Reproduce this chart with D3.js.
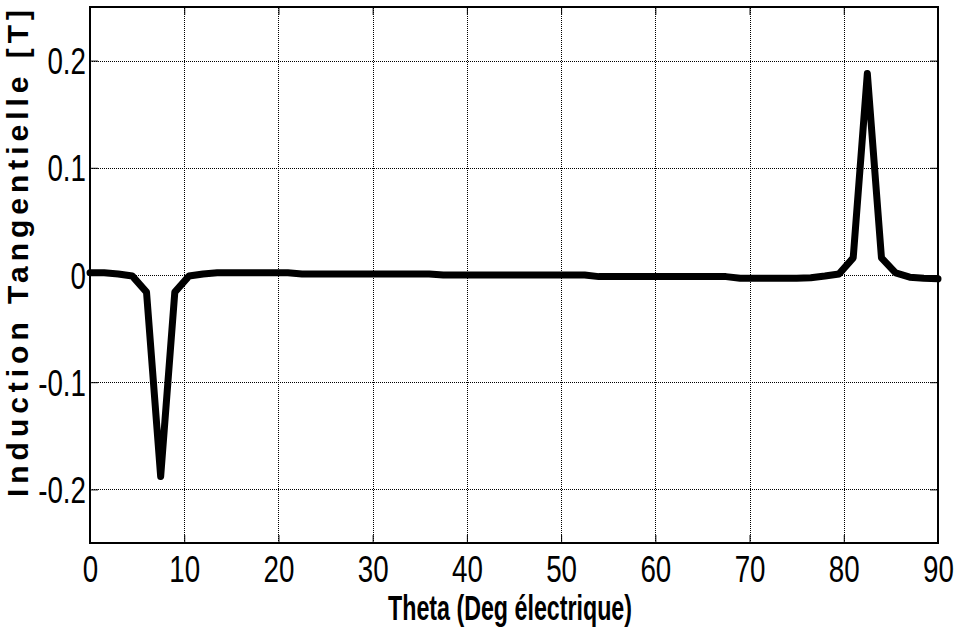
<!DOCTYPE html>
<html>
<head>
<meta charset="utf-8">
<script src="https://cdn.jsdelivr.net/npm/d3@7"></script>
<style>
  html, body { margin: 0; padding: 0; background: #fff; }
  svg { display: block; }
  .tick-label { font-family: "Liberation Sans Narrow", "Arial Narrow", "Liberation Sans", Arial, sans-serif; font-size: 37px; fill: #000; }
  .title { font-family: "Liberation Sans Narrow", "Arial Narrow", "Liberation Sans", Arial, sans-serif; font-weight: bold; fill: #000; }
</style>
</head>
<body>
<svg id="chart" width="954" height="631"></svg>
<script>
// Angle (electrical degrees), sampled every 1.5°
const theta = [
  0, 1.5, 3, 4.5, 6, 7.5, 9, 10.5, 12, 13.5,
  15, 16.5, 18, 19.5, 21, 22.5, 24, 25.5, 27, 28.5,
  30, 31.5, 33, 34.5, 36, 37.5, 39, 40.5, 42, 43.5,
  45, 46.5, 48, 49.5, 51, 52.5, 54, 55.5, 57, 58.5,
  60, 61.5, 63, 64.5, 66, 67.5, 69, 70.5, 72, 73.5,
  75, 76.5, 78, 79.5, 81, 82.5, 84, 85.5, 87, 88.5, 90
];
// Tangential flux density [T]
const bTangential = [
  0.002, 0.002, 0.001, -0.001, -0.016, -0.188, -0.016, -0.001, 0.001, 0.002,
  0.002, 0.002, 0.002, 0.002, 0.002, 0.001, 0.001, 0.001, 0.001, 0.001,
  0.001, 0.001, 0.001, 0.001, 0.001, 0.0, 0.0, 0.0, 0.0, 0.0,
  0.0, 0.0, 0.0, 0.0, 0.0, 0.0, -0.0015, -0.0015, -0.0015, -0.0015,
  -0.0015, -0.0015, -0.0015, -0.0015, -0.0015, -0.0015, -0.003, -0.003, -0.003, -0.003,
  -0.003, -0.0025, -0.001, 0.001, 0.016, 0.188, 0.016, 0.002, -0.002, -0.003, -0.0035
];
const xTicks = [0, 10, 20, 30, 40, 50, 60, 70, 80, 90];
const yTicks = [-0.2, -0.1, 0, 0.1, 0.2];
const yTickLabels = ["-0.2", "-0.1", "0", "0.1", "0.2"];
const xDomain = [0, 90];
const yDomain = [-0.25, 0.25];
const xTitle = "Theta (Deg électrique)";
const yTitle = "Induction Tangentielle [T]";

const svg = d3.select("#chart");
const plotL = 90, plotR = 938, plotT = 7, plotB = 543;

const x = d3.scaleLinear().domain(xDomain).range([plotL, plotR]);
const y = d3.scaleLinear().domain(yDomain).range([plotB, plotT]);

// dotted grid
const grid = svg.append("g");
grid.append("g")
  .attr("transform", `translate(0,${plotB})`)
  .call(d3.axisBottom(x).tickValues(xTicks).tickSize(-(plotB - plotT)).tickFormat(""))
  .call(g => g.select(".domain").remove())
  .call(g => g.selectAll("line").attr("stroke", "#000").attr("stroke-dasharray", "1,1").attr("shape-rendering", "crispEdges"));
grid.append("g")
  .attr("transform", `translate(${plotL},0)`)
  .call(d3.axisLeft(y).tickValues(yTicks).tickSize(-(plotR - plotL)).tickFormat(""))
  .call(g => g.select(".domain").remove())
  .call(g => g.selectAll("line").attr("stroke", "#000").attr("stroke-dasharray", "1,1").attr("shape-rendering", "crispEdges"));

// inward tick marks on all four sides
const tickLen = 8;
const axB = svg.append("g").attr("transform", `translate(0,${plotB})`)
  .call(d3.axisBottom(x).tickValues(xTicks).tickSize(-tickLen).tickFormat(""));
const axT = svg.append("g").attr("transform", `translate(0,${plotT})`)
  .call(d3.axisTop(x).tickValues(xTicks).tickSize(-tickLen).tickFormat(""));
const axL = svg.append("g").attr("transform", `translate(${plotL},0)`)
  .call(d3.axisLeft(y).tickValues(yTicks).tickSize(-tickLen).tickFormat(""));
const axR = svg.append("g").attr("transform", `translate(${plotR},0)`)
  .call(d3.axisRight(y).tickValues(yTicks).tickSize(-tickLen).tickFormat(""));
[axB, axT, axL, axR].forEach(a => {
  a.select(".domain").remove();
  a.selectAll("line").attr("stroke", "#000").attr("stroke-width", 1);
});

// tick labels (condensed digits, plain hyphen minus)
const sx = 0.75;
axB.selectAll(".tick").append("text")
  .attr("class", "tick-label")
  .attr("text-anchor", "middle")
  .attr("transform", `translate(0,39) scale(${sx},1)`)
  .text(d => d);
axL.selectAll(".tick").append("text")
  .attr("class", "tick-label")
  .attr("text-anchor", "end")
  .attr("transform", `translate(-4,13) scale(${sx},1)`)
  .text((d, i) => yTickLabels[i]);

// data line
const line = d3.line().x((d, i) => x(theta[i])).y(d => y(d));
svg.append("path")
  .datum(bTangential)
  .attr("d", line)
  .attr("fill", "none")
  .attr("stroke", "#000")
  .attr("stroke-width", 7)
  .attr("stroke-linejoin", "round")
  .attr("stroke-linecap", "round");

// frame
svg.append("rect")
  .attr("x", plotL).attr("y", plotT)
  .attr("width", plotR - plotL).attr("height", plotB - plotT)
  .attr("fill", "none").attr("stroke", "#000").attr("stroke-width", 2);

// axis titles
svg.append("text")
  .attr("class", "title")
  .attr("x", 388).attr("y", 620)
  .attr("font-size", 35)
  .attr("textLength", 244)
  .attr("lengthAdjust", "spacingAndGlyphs")
  .text(xTitle);

svg.append("text")
  .attr("class", "title")
  .attr("transform", "translate(28,497) rotate(-90)")
  .style("font-family", "'Liberation Sans', Arial, sans-serif")
  .attr("font-size", 30)
  .attr("textLength", 487)
  .attr("lengthAdjust", "spacing")
  .text(yTitle);
</script>
</body>
</html>
